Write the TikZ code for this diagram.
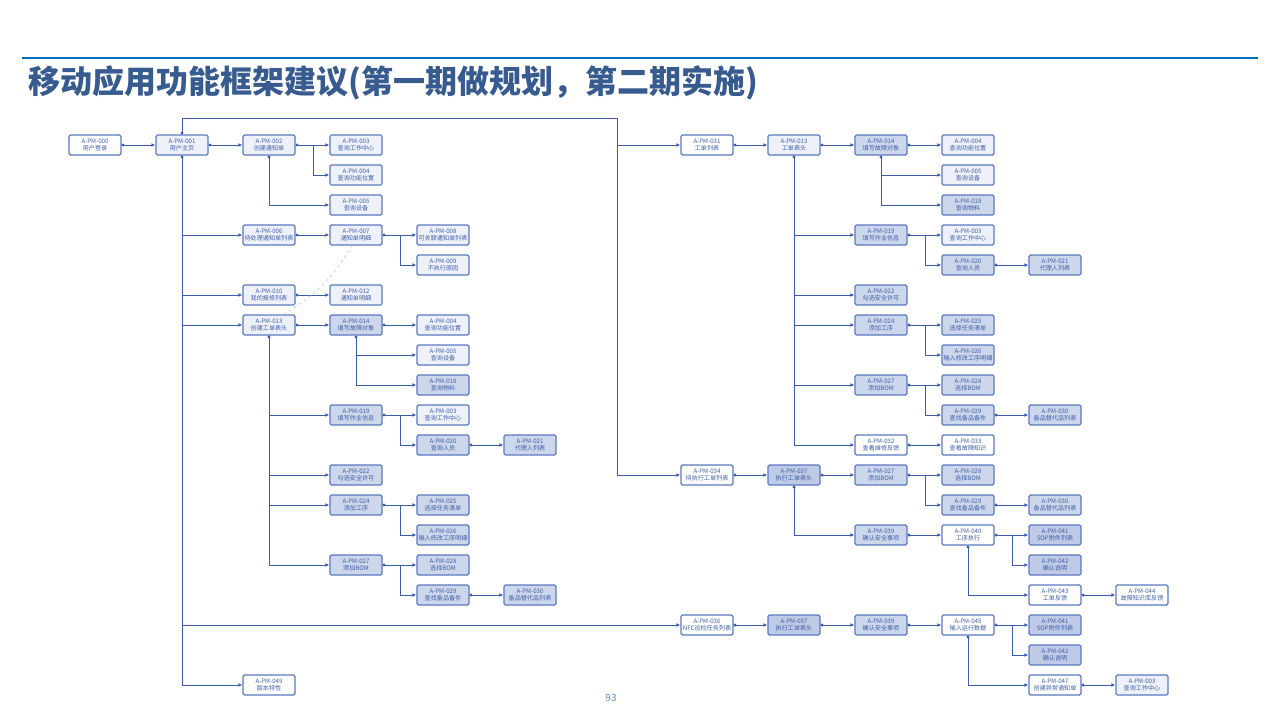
\documentclass[tikz,border=0pt]{standalone}
\usepackage{fontspec}
\setmainfont{Noto Sans CJK SC}
\usetikzlibrary{arrows.meta}

\definecolor{lc}{HTML}{3C5DAE}
\definecolor{bc}{HTML}{5A78C2}
\definecolor{fdk}{HTML}{CDD7EB}
\definecolor{fdd}{HTML}{BFCBE6}
\definecolor{flt}{HTML}{EEF1F9}
\definecolor{tc}{HTML}{3F5FAA}
\definecolor{ttl}{HTML}{375A8F}
\definecolor{rulec}{HTML}{0070C0}
\definecolor{pgn}{HTML}{5B8BD0}

\tikzset{
  pg/.style={draw=bc, line width=1.1pt, rounded corners=1.5pt, fill=white,
    minimum width=52pt, minimum height=20pt, inner sep=0pt, align=center,
    text=tc, font=\fontsize{6.1}{7.6}\selectfont},
  pglt/.style={pg, fill=flt},
  pgdk/.style={pg, fill=fdk},
  pgdd/.style={pg, fill=fdd},
  lk/.style={draw=lc, line width=0.9pt, {Circle[length=3pt]}-{Latex[length=4pt,width=3.6pt]}},
  br/.style={draw=lc, line width=0.9pt, -{Latex[length=4pt,width=3.6pt]}},
  dsh/.style={draw=lc!35, line width=0.6pt, dashed},
}

\begin{document}
\begin{tikzpicture}[x=1pt,y=-1pt]
\useasboundingbox (0,0) rectangle (1280,720);
\draw[rulec, line width=1.2pt] (22,58) -- (1258,58); % top rule
\node[anchor=west, text=ttl, font=\fontsize{32}{32}\selectfont\bfseries] (title) at (25,83) {移动应用功能框架建议(第一期做规划，第二期实施)};
\node[text=pgn, font=\fontsize{10}{10}\selectfont] (pgno) at (611,698) {93};

% left half
\node[pg] (n000) at (95,145) {A-PM-000\\用户登录};
\node[pglt] (n001) at (182,145) {A-PM-001\\用户主页};
\node[pglt] (n002) at (269,145) {A-PM-002\\创建通知单};
\node[pglt] (n003) at (356,145) {A-PM-003\\查询工作中心};
\node[pglt] (n004) at (356,175) {A-PM-004\\查询功能位置};
\node[pglt] (n005) at (356,205) {A-PM-005\\查询设备};
\node[pglt] (n006) at (269,235) {A-PM-006\\待处理通知单列表};
\node[pglt] (n007) at (356,235) {A-PM-007\\通知单明细};
\node[pglt] (n008) at (443,235) {A-PM-008\\可关联通知单列表};
\node[pglt] (n009) at (443,265) {A-PM-009\\不执行原因};
\node[pglt] (n010) at (269,295) {A-PM-010\\我的报修列表};
\node[pglt] (n012) at (356,295) {A-PM-012\\通知单明细};
\node[pglt] (n013) at (269,325) {A-PM-013\\创建工单表头};
\node[pgdk] (n014) at (356,325) {A-PM-014\\填写故障对象};
\node[pglt] (n014a) at (443,325) {A-PM-004\\查询功能位置};
\node[pglt] (n014b) at (443,355) {A-PM-005\\查询设备};
\node[pgdk] (n018) at (443,385) {A-PM-018\\查询物料};
\node[pgdk] (n019) at (356,415) {A-PM-019\\填写作业信息};
\node[pglt] (n019a) at (443,415) {A-PM-003\\查询工作中心};
\node[pgdk] (n020) at (443,445) {A-PM-020\\查询人员};
\node[pgdk] (n021) at (530,445) {A-PM-021\\代理人列表};
\node[pgdk] (n022) at (356,475) {A-PM-022\\勾选安全许可};
\node[pgdk] (n024) at (356,505) {A-PM-024\\添加工序};
\node[pgdk] (n025) at (443,505) {A-PM-025\\选择任务清单};
\node[pgdk] (n026) at (443,535) {A-PM-026\\输入修改工序明细};
\node[pgdk] (n027) at (356,565) {A-PM-027\\添加BOM};
\node[pgdk] (n028) at (443,565) {A-PM-028\\选择BOM};
\node[pgdk] (n029) at (443,595) {A-PM-029\\查找备品备件};
\node[pgdk] (n030) at (530,595) {A-PM-030\\备品替代品列表};
\node[pg] (n049) at (269,685) {A-PM-049\\版本特性};

% right half
\node[pg] (r031) at (707,145) {A-PM-031\\工单列表};
\node[pglt] (r013) at (794,145) {A-PM-013\\工单表头};
\node[pgdk] (r014) at (881,145) {A-PM-014\\填写故障对象};
\node[pglt] (r004) at (968,145) {A-PM-004\\查询功能位置};
\node[pglt] (r005) at (968,175) {A-PM-005\\查询设备};
\node[pgdk] (r018) at (968,205) {A-PM-018\\查询物料};
\node[pgdk] (r019) at (881,235) {A-PM-019\\填写作业信息};
\node[pglt] (r003) at (968,235) {A-PM-003\\查询工作中心};
\node[pgdk] (r020) at (968,265) {A-PM-020\\查询人员};
\node[pgdk] (r021) at (1055,265) {A-PM-021\\代理人列表};
\node[pgdk] (r022) at (881,295) {A-PM-022\\勾选安全许可};
\node[pgdk] (r024) at (881,325) {A-PM-024\\添加工序};
\node[pgdk] (r025) at (968,325) {A-PM-025\\选择任务清单};
\node[pgdk] (r026) at (968,355) {A-PM-026\\输入修改工序明细};
\node[pgdk] (r027) at (881,385) {A-PM-027\\添加BOM};
\node[pgdk] (r028) at (968,385) {A-PM-028\\选择BOM};
\node[pgdk] (r029) at (968,415) {A-PM-029\\查找备品备件};
\node[pgdk] (r030) at (1055,415) {A-PM-030\\备品替代品列表};
\node[pg] (r032) at (881,445) {A-PM-032\\查看维修反馈};
\node[pg] (r033) at (968,445) {A-PM-033\\查看故障知识};
\node[pg] (r034) at (707,475) {A-PM-034\\待执行工单列表};
\node[pgdd] (r037) at (794,475) {A-PM-037\\执行工单表头};
\node[pgdk] (r027b) at (881,475) {A-PM-027\\添加BOM};
\node[pgdk] (r028b) at (968,475) {A-PM-028\\选择BOM};
\node[pgdk] (r029b) at (968,505) {A-PM-029\\查找备品备件};
\node[pgdk] (r030b) at (1055,505) {A-PM-030\\备品替代品列表};
\node[pgdk] (r039) at (881,535) {A-PM-039\\确认安全事项};
\node[pg] (r040) at (968,535) {A-PM-040\\工序执行};
\node[pgdd] (r041) at (1055,535) {A-PM-041\\SOP附件列表};
\node[pgdd] (r042) at (1055,565) {A-PM-042\\确认说明};
\node[pg] (r043) at (1055,595) {A-PM-043\\工单反馈};
\node[pg] (r044) at (1142,595) {A-PM-044\\故障知识库反馈};
\node[pg] (r036) at (707,625) {A-PM-036\\NFC巡检任务列表};
\node[pgdd] (r037b) at (794,625) {A-PM-037\\执行工单表头};
\node[pgdk] (r039b) at (881,625) {A-PM-039\\确认安全事项};
\node[pg] (r045) at (968,625) {A-PM-045\\输入运行数据};
\node[pgdd] (r041b) at (1055,625) {A-PM-041\\SOP附件列表};
\node[pgdd] (r042b) at (1055,655) {A-PM-042\\确认说明};
\node[pg] (r047) at (1055,685) {A-PM-047\\创建异常通知单};
\node[pglt] (r003b) at (1142,685) {A-PM-003\\查询工作中心};

\coordinate (jT) at (617,118); % corner of top line

% trunk from user home
\draw[lk] (n000) -- (n001);
\draw[lk] (n001.north) |- (jT) |- (r034);
\draw[br] (jT) |- (r031);
\draw[lk] (n001.south) |- (n049);
\draw[br] (n001.south) |- (n006);
\draw[br] (n001.south) |- (n010);
\draw[br] (n001.south) |- (n013);
\draw[br] (n001.south) |- (r036);

% notification
\draw[lk] (n001) -- (n002);
\draw[lk] (n002) -- (n003);
\draw[br] (n002.east) -- ++(17.5,0) |- (n004);
\draw[lk] (n002.south) |- (n005);
\draw[lk] (n006) -- (n007);
\draw[lk] (n007) -- (n008);
\draw[br] (n007.east) -- ++(17.5,0) |- (n009);
\draw[lk] (n010) -- (n012);
\draw[dsh] ([xshift=-12pt]n013.north east) to[bend right=14] ([xshift=-4pt]n007.south);

% work order (left)
\draw[lk] (n013) -- (n014);
\draw[lk] (n014) -- (n014a);
\draw[lk] (n014.south) |- (n018);
\draw[br] (n014.south) |- (n014b);
\draw[lk] (n013.south) |- (n027);
\draw[br] (n013.south) |- (n019);
\draw[br] (n013.south) |- (n022);
\draw[br] (n013.south) |- (n024);
\draw[lk] (n019) -- (n019a);
\draw[br] (n019.east) -- ++(17.5,0) |- (n020);
\draw[lk] (n020) -- (n021);
\draw[lk] (n024) -- (n025);
\draw[br] (n024.east) -- ++(17.5,0) |- (n026);
\draw[lk] (n027) -- (n028);
\draw[br] (n027.east) -- ++(17.5,0) |- (n029);
\draw[lk] (n029) -- (n030);

% work order (right)
\draw[lk] (r031) -- (r013);
\draw[lk] (r013) -- (r014);
\draw[lk] (r014) -- (r004);
\draw[lk] (r014.south) |- (r018);
\draw[br] (r014.south) |- (r005);
\draw[lk] (r013.south) |- (r032);
\draw[br] (r013.south) |- (r019);
\draw[br] (r013.south) |- (r022);
\draw[br] (r013.south) |- (r024);
\draw[br] (r013.south) |- (r027);
\draw[lk] (r019) -- (r003);
\draw[br] (r019.east) -- ++(17.5,0) |- (r020);
\draw[lk] (r020) -- (r021);
\draw[lk] (r024) -- (r025);
\draw[br] (r024.east) -- ++(17.5,0) |- (r026);
\draw[lk] (r027) -- (r028);
\draw[br] (r027.east) -- ++(17.5,0) |- (r029);
\draw[lk] (r029) -- (r030);
\draw[lk] (r032) -- (r033);

% execution
\draw[lk] (r034) -- (r037);
\draw[lk] (r037) -- (r027b);
\draw[lk] (r027b) -- (r028b);
\draw[br] (r027b.east) -- ++(17.5,0) |- (r029b);
\draw[lk] (r029b) -- (r030b);
\draw[lk] (r037.south) |- (r039);
\draw[lk] (r039) -- (r040);
\draw[lk] (r040) -- (r041);
\draw[br] (r040.east) -- ++(17.5,0) |- (r042);
\draw[lk] (r040.south) |- (r043);
\draw[lk] (r043) -- (r044);

% NFC inspection
\draw[lk] (r036) -- (r037b);
\draw[lk] (r037b) -- (r039b);
\draw[lk] (r039b) -- (r045);
\draw[lk] (r045) -- (r041b);
\draw[br] (r045.east) -- ++(17.5,0) |- (r042b);
\draw[lk] (r045.south) |- (r047);
\draw[lk] (r047) -- (r003b);
\end{tikzpicture}
\end{document}
